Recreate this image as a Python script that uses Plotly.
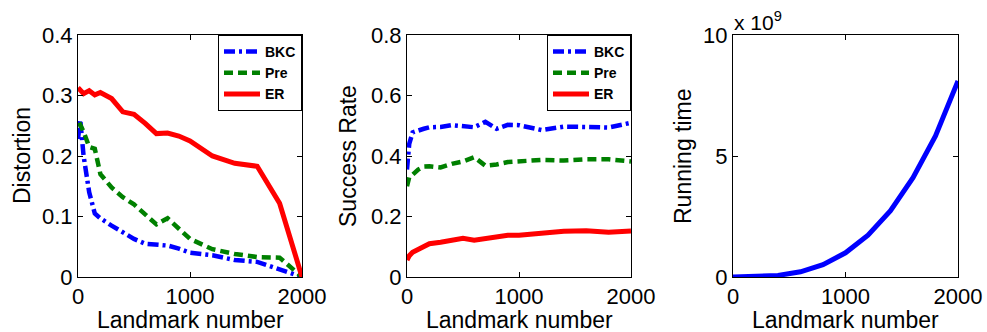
import plotly.graph_objects as go

# ---------------- data ----------------
landmarks = [0, 20, 50, 100, 150, 200, 300, 400, 500, 600, 700, 800, 900,
             1000, 1200, 1400, 1600, 1800, 2000]

dist_bkc = [0.228, 0.26, 0.20, 0.14, 0.105, 0.097, 0.085, 0.073, 0.063, 0.055,
            0.053, 0.052, 0.047, 0.040, 0.036, 0.028, 0.025, 0.013, 0.0]
dist_pre = [0.25, 0.252, 0.24, 0.215, 0.212, 0.17, 0.148, 0.132, 0.12, 0.103,
            0.087, 0.097, 0.08, 0.063, 0.046, 0.038, 0.033, 0.032, 0.0]
dist_er = [0.313, 0.310, 0.303, 0.308, 0.301, 0.305, 0.295, 0.273, 0.269, 0.254,
           0.237, 0.238, 0.233, 0.225, 0.200, 0.188, 0.183, 0.122, 0.0]

succ_bkc = [0.355, 0.44, 0.478, 0.486, 0.49, 0.495, 0.496, 0.502, 0.50, 0.495,
            0.513, 0.49, 0.503, 0.502, 0.486, 0.497, 0.496, 0.494, 0.51]
succ_pre = [0.30, 0.33, 0.338, 0.355, 0.365, 0.366, 0.362, 0.374, 0.382, 0.396,
            0.368, 0.372, 0.38, 0.383, 0.387, 0.385, 0.389, 0.389, 0.382]
succ_er = [0.056, 0.07, 0.082, 0.092, 0.10, 0.11, 0.115, 0.12, 0.128, 0.122,
           0.128, 0.133, 0.138, 0.138, 0.146, 0.151, 0.153, 0.148, 0.152]

time_landmarks = [0, 200, 400, 600, 800, 1000, 1200, 1400, 1600, 1800, 2000]
running_time = [0.0, 0.008e9, 0.064e9, 0.216e9, 0.512e9, 1.0e9, 1.73e9,
                2.74e9, 4.1e9, 5.83e9, 8.1e9]

series_names = ["BKC", "Pre", "ER"]
time_ticks = [0, 5e9, 10e9]
time_tick_text = ["0", "5", "10"]

# ---------------- styling ----------------
W, H = 987, 332
FONT = "Arial, Liberation Sans, Helvetica, sans-serif"
BLUE, GREEN, RED = "rgb(0,0,255)", "rgb(0,128,0)", "rgb(255,0,0)"
styles = [
    dict(color=BLUE, width=4.5, dash="11px,4px,3px,4px"),
    dict(color=GREEN, width=4.5, dash="9px,5px"),
    dict(color=RED, width=5, dash="solid"),
]


def px_x(p):
    return p / W


def px_y(p):
    return 1 - p / H


fig = go.Figure()

for name, ys, st in zip(series_names, [dist_bkc, dist_pre, dist_er], styles):
    fig.add_trace(go.Scatter(x=landmarks, y=ys, mode="lines", name=name,
                             line=st, xaxis="x", yaxis="y", legend="legend"))
for name, ys, st in zip(series_names, [succ_bkc, succ_pre, succ_er], styles):
    fig.add_trace(go.Scatter(x=landmarks, y=ys, mode="lines", name=name,
                             line=st, xaxis="x2", yaxis="y2", legend="legend2"))
fig.add_trace(go.Scatter(x=time_landmarks, y=running_time, mode="lines",
                         line=dict(color=BLUE, width=5), showlegend=False,
                         xaxis="x3", yaxis="y3"))

top, bottom = 35, 277
domains_x = [(78, 302), (407, 631), (733, 958)]

common = dict(showline=True, linecolor="black", linewidth=1, mirror="allticks",
              ticks="inside", ticklen=5, tickcolor="black", showgrid=False,
              zeroline=False, automargin=False,
              tickfont=dict(family=FONT, size=22, color="black"))

xaxis_kw = dict(common, range=[0, 2000], tickvals=[0, 1000, 2000])

legend_kw = dict(y=px_y(top), xanchor="right", yanchor="top",
                 bgcolor="white", bordercolor="black", borderwidth=1,
                 font=dict(family=FONT, size=14, color="black", weight="bold"),
                 tracegroupgap=0, itemwidth=36)

layout = dict(
    width=W, height=H,
    margin=dict(l=0, r=0, t=0, b=0, autoexpand=False),
    paper_bgcolor="white", plot_bgcolor="white",
    font=dict(family=FONT, color="black"),
    xaxis=dict(xaxis_kw, domain=[px_x(domains_x[0][0]), px_x(domains_x[0][1])], anchor="y"),
    xaxis2=dict(xaxis_kw, domain=[px_x(domains_x[1][0]), px_x(domains_x[1][1])], anchor="y2"),
    xaxis3=dict(xaxis_kw, domain=[px_x(domains_x[2][0]), px_x(domains_x[2][1])], anchor="y3"),
    yaxis=dict(common, range=[0, 0.4], tickvals=[0, 0.1, 0.2, 0.3, 0.4],
               ticktext=["0", "0.1", "0.2", "0.3", "0.4"],
               domain=[px_y(bottom), px_y(top)], anchor="x"),
    yaxis2=dict(common, range=[0, 0.8], tickvals=[0, 0.2, 0.4, 0.6, 0.8],
                ticktext=["0", "0.2", "0.4", "0.6", "0.8"],
                domain=[px_y(bottom), px_y(top)], anchor="x2"),
    yaxis3=dict(common, range=[0, 10e9], tickvals=time_ticks, ticktext=time_tick_text,
                domain=[px_y(bottom), px_y(top)], anchor="x3"),
    legend=dict(legend_kw, x=px_x(302)),
    legend2=dict(legend_kw, x=px_x(631)),
    showlegend=True,
)
fig.update_layout(**layout)

title_font = dict(family=FONT, size=23, color="black")
annots = [
    dict(text="Landmark number", x=px_x(190), y=px_y(320)),
    dict(text="Landmark number", x=px_x(519), y=px_y(320)),
    dict(text="Landmark number", x=px_x(845), y=px_y(320)),
    dict(text="Distortion", x=px_x(22), y=px_y(156), textangle=-90),
    dict(text="Success Rate", x=px_x(348), y=px_y(156), textangle=-90),
    dict(text="Running time", x=px_x(683), y=px_y(156), textangle=-90),
]
for a in annots:
    fig.add_annotation(xref="paper", yref="paper", showarrow=False,
                       xanchor="center", yanchor="middle", font=title_font, **a)
fig.add_annotation(xref="paper", yref="paper", showarrow=False,
                   text="x 10<sup>9</sup>", x=px_x(732), y=px_y(36),
                   xanchor="left", yanchor="bottom",
                   font=dict(family=FONT, size=21, color="black"))

fig.write_html("out.html",
               config={"displayModeBar": False},
               post_script="document.body.style.margin='0';"
                           "document.body.style.overflow='hidden';")
